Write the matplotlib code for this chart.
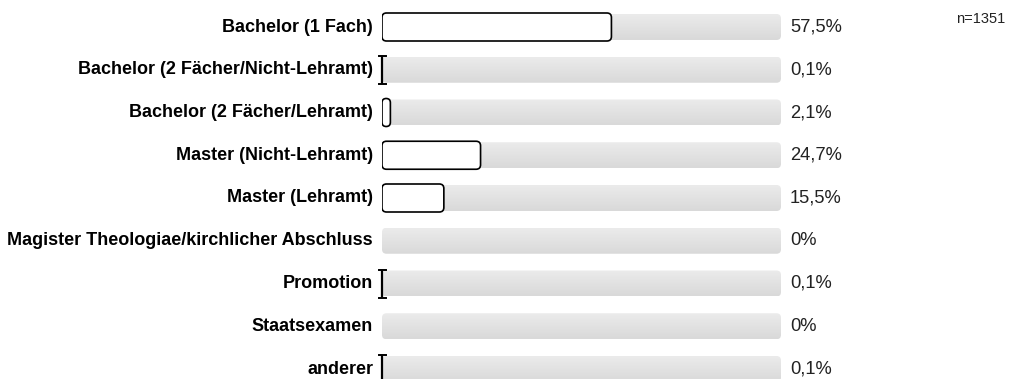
import numpy as np
import matplotlib
matplotlib.use("Agg")
import matplotlib.pyplot as plt
from matplotlib.patches import FancyBboxPatch
from matplotlib.colors import LinearSegmentedColormap

categories = ["Bachelor (1 Fach)", "Bachelor (2 Fächer/Nicht-Lehramt)",
              "Bachelor (2 Fächer/Lehramt)", "Master (Nicht-Lehramt)",
              "Master (Lehramt)", "Magister Theologiae/kirchlicher Abschluss",
              "Promotion", "Staatsexamen", "anderer"]
values = [57.5, 0.1, 2.1, 24.7, 15.5, 0.0, 0.1, 0.0, 0.1]
value_labels = ["57,5%", "0,1%", "2,1%", "24,7%", "15,5%", "0%", "0,1%", "0%", "0,1%"]
n_total = "n=1351"

W, H = 1009, 379
x0, x1 = 382, 781          # track extent in px
row0, step = 27, 42.75     # first row centre / row spacing in px

plt.rcParams["font.family"] = ["Liberation Sans", "DejaVu Sans"]
fig = plt.figure(figsize=(W / 100, H / 100), dpi=100)
ax = fig.add_axes([x0 / W, 0, (x1 - x0) / W, 1])
ax.set_xlim(0, 100)
ax.set_ylim((H - row0) / step, -row0 / step)
ax.axis("off")

px_x = (x1 - x0) / 100.0   # px per x unit
px_y = step                # px per y unit
track_h = 26 / px_y
bar_h = 28 / px_y
r_px = 4.5
aspect = (r_px / px_y) / (r_px / px_x)

# vertical gradient for the tracks
grad = np.linspace(0, 1, 64).reshape(-1, 1)
cmap = LinearSegmentedColormap.from_list("g", ["#ebebeb", "#d9d9d9"])

for i, (cat, v, lab) in enumerate(zip(categories, values, value_labels)):
    tr = FancyBboxPatch((0, i - track_h / 2), 100, track_h,
                        boxstyle=f"round,pad=0,rounding_size={r_px / px_x}",
                        mutation_aspect=aspect, fc="none", ec="none", zorder=1)
    ax.add_patch(tr)
    im = ax.imshow(grad, extent=(0, 100, i + track_h / 2, i - track_h / 2),
                   cmap=cmap, aspect="auto", zorder=1, interpolation="bilinear")
    im.set_clip_path(tr)

    if v >= 1:
        rs = min(r_px, v * px_x / 2) / px_x
        ax.add_patch(FancyBboxPatch((0, i - bar_h / 2), v, bar_h,
                                    boxstyle=f"round,pad=0,rounding_size={rs}",
                                    mutation_aspect=px_x / px_y,
                                    fc="white", ec="black", lw=1.2, zorder=3))
    elif v > 0:
        # tiny share drawn as an I-beam
        cap = 3.5 / px_x
        yt, yb = i - track_h / 2 - 1 / px_y, i + track_h / 2 + 1 / px_y
        ax.plot([0, 0], [yt, yb], color="black", lw=1.6, zorder=3,
                solid_capstyle="butt", clip_on=False)
        ax.plot([-cap, cap], [yt, yt], color="black", lw=1.4, zorder=3, clip_on=False)
        ax.plot([-cap, cap], [yb, yb], color="black", lw=1.4, zorder=3, clip_on=False)

    ax.text(-9 / px_x, i, cat, ha="right", va="center", fontsize=13,
            fontweight="bold", color="black", clip_on=False)
    ax.text(100 + 9 / px_x, i, lab, ha="left", va="center", fontsize=13.2,
            color="#222222", clip_on=False)

fig.text(956 / W, 1 - 19 / H, n_total, ha="left", va="center", fontsize=10.5,
         color="#222222")

fig.savefig("out.png", dpi=100)
